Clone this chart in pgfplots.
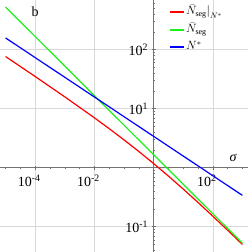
\documentclass[border=0pt]{standalone}
\usepackage{fontspec}
\setmainfont{Liberation Serif}
\usepackage{pgfplots}
\pgfplotsset{compat=1.18}
\definecolor{cred}{rgb}{1,0,0}
\definecolor{cgreen}{rgb}{0.1,0.95,0.1}
\definecolor{cblue}{rgb}{0,0,1}
\begin{document}
\fontsize{13}{15}\selectfont
\begin{tikzpicture}
\begin{axis}[
  scale only axis, width=248pt, height=252pt,
  xmode=log, ymode=log,
  xmin=6.46e-6, xmax=1549, ymin=0.0372, ymax=692,
  axis lines=middle,
  axis line style={-, draw=black!55, line width=0.6pt},
  xtick={1e-4,1e-2,1e2},
  xticklabels={10\textsuperscript{-4},10\textsuperscript{-2},10\textsuperscript{2}},
  ytick={1e-1,1e1,1e2},
  yticklabels={10\textsuperscript{-1},10\textsuperscript{1},10\textsuperscript{2}},
  minor xtick={1e-5,3.162e-5,3.162e-4,1e-3,3.162e-3,3.162e-2,1e-1,3.162e-1,3.162,10,31.62,316.2,1000},
  minor ytick={0.04,0.05,0.06,0.07,0.08,0.09,0.2,0.3,0.4,0.5,0.6,0.7,0.8,0.9,2,3,4,5,6,7,8,9,20,30,40,50,60,70,80,90,200,300,400,500,600},
  grid=major,
  major grid style={draw=black!15, line width=0.5pt},
  tick style={draw=black!55, line width=0.4pt},
  major tick length=4pt, minor tick length=2pt,
  xticklabel style={font=\fontsize{14}{16}\selectfont, xshift=-6pt, yshift=-1pt},
  yticklabel style={font=\fontsize{14}{16}\selectfont, xshift=1pt},
  legend cell align=left,
  legend style={draw=none, fill=none, at={(rel axis cs:0.68,0.985)}, anchor=north west,
    inner sep=0pt, font=\fontsize{12}{14}\selectfont,
    nodes={inner sep=1pt, text height=10pt, text depth=5.5pt}},
  legend image code/.code={\draw[#1, line width=1.7pt] (0pt,0.5pt) -- (14.6pt,0.5pt);},
  clip=true,
]
\addplot[cred, line width=1.2pt] coordinates {
 (1e-5,76.2) (1e-4,34.96) (1e-3,15.81) (1e-2,6.98) (3.162e-2,4.57) (0.1,2.955)
 (0.3162,1.879) (1,1.174) (3.162,0.720) (10,0.4337) (31.62,0.2573) (100,0.1505)
 (316.2,0.0871) (1000,0.05003)};
\addlegendentry{$\bar{N}_{\mathrm{seg}}\big|_{N^*}$}
\addplot[cgreen, line width=1.2pt] coordinates {
 (1e-5,524.9) (1e-2,16.6) (1,1.66) (1000,0.0525)};
\addlegendentry{$\bar{N}_{\mathrm{seg}}$}
\addplot[cblue, line width=1.2pt] coordinates {
 (1e-5,157.4) (1e-2,15.74) (1,3.39) (1000,0.339)};
\addlegendentry{$N^*$}
\node[anchor=center, font=\fontsize{14}{16}\selectfont] at (axis cs:1e-4,437) {b};
\node[anchor=center, font=\fontsize{14}{16}\selectfont] at (axis cs:489,1.46) {\textit{σ}};
\end{axis}
\pgfresetboundingbox
\path[use as bounding box] (current axis.south west) rectangle (current axis.north east);
\end{tikzpicture}
\end{document}
